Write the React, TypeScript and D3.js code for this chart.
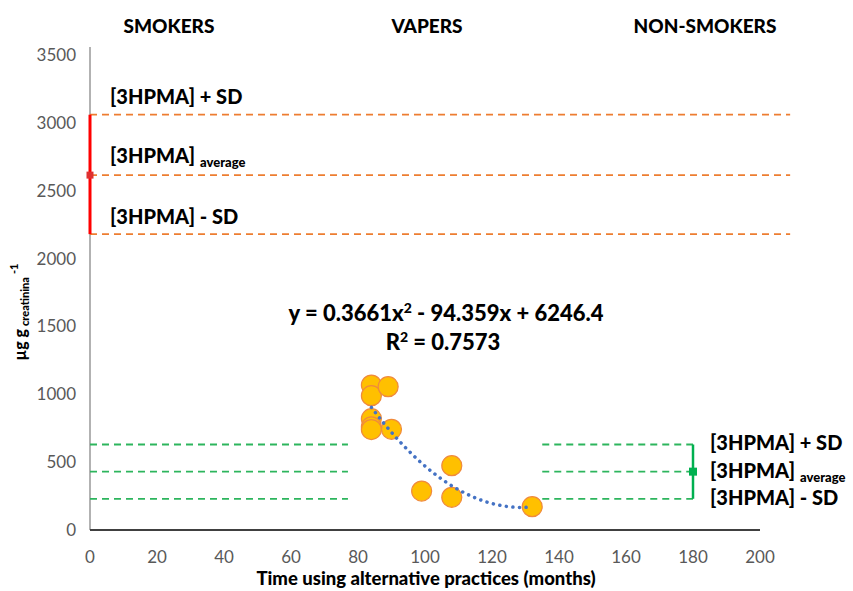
import React from "react";
import * as d3 from "d3";

const xTicks = [0, 20, 40, 60, 80, 100, 120, 140, 160, 180, 200];
const yTicks = [0, 500, 1000, 1500, 2000, 2500, 3000, 3500];
const vaperMonths = [84, 84, 84, 84, 84, 89, 90, 99, 108, 108, 132];
const vaperValues = [1068, 990, 820, 760, 740, 1056, 742, 287, 474, 241, 172];
const smokerStats = { avg: 2615, plus: 3060, minus: 2180 };
const nonSmokerStats = { avg: 430, plus: 630, minus: 230 };
const fitCoef = [0.3661, -94.359, 6246.4];
const groupLabels = ["SMOKERS", "VAPERS", "NON-SMOKERS"];

const W = 853, H = 591;
const FONT = "Lato, 'Open Sans', sans-serif";

export default function App() {
  const x = d3.scaleLinear().domain([0, 200]).range([90, 760]);
  const y = d3.scaleLinear().domain([0, 3500]).range([530, 55]);
  const fit = (t: number) => fitCoef[0] * t * t + fitCoef[1] * t + fitCoef[2];
  const fitPts = d3.range(84, 132.01, 0.5).map((t) => [t, fit(t)] as [number, number]);
  const line = d3.line<[number, number]>().x((d) => x(d[0])).y((d) => y(d[1]));

  const orange = "#ED7D31";
  const green = "#2DB55D";
  const tickColor = "#595959";

  const smokerLines = [smokerStats.plus, smokerStats.avg, smokerStats.minus];
  const nonLines = [nonSmokerStats.plus, nonSmokerStats.avg, nonSmokerStats.minus];

  return (
    <svg width={W} height={H} style={{ position: "absolute", left: 0, top: 0, background: "#fff" }} fontFamily={FONT}>
      {groupLabels.map((g, i) => (
        <text key={g} x={[169, 427, 705][i]} y={33} textAnchor="middle" fontWeight="900" fontSize={19} fill="#000">{g}</text>
      ))}
      <line x1={x(0)} x2={x(0)} y1={y(3500) - 8} y2={y(0)} stroke="#7f7f7f" strokeWidth={1.2} />
      {yTicks.map((t) => (
        <text key={t} x={76} y={y(t) + 6} textAnchor="end" fontSize={17} fill={tickColor}>{t}</text>
      ))}
      {xTicks.map((t) => (
        <text key={t} x={x(t)} y={563} textAnchor="middle" fontSize={17} fill={tickColor}>{t}</text>
      ))}
      {smokerLines.map((v, i) => (
        <line key={i} x1={x(0)} x2={x(209)} y1={y(v)} y2={y(v)} stroke={orange} strokeWidth={1.8} strokeDasharray="7,5" />
      ))}
      {nonLines.map((v, i) => (
        <g key={i}>
          <line x1={x(0)} x2={x(77)} y1={y(v)} y2={y(v)} stroke={green} strokeWidth={1.8} strokeDasharray="7,5" />
          <line x1={x(135)} x2={x(180)} y1={y(v)} y2={y(v)} stroke={green} strokeWidth={1.8} strokeDasharray="7,5" />
        </g>
      ))}
      <line x1={x(0)} x2={x(200)} y1={y(0)} y2={y(0)} stroke="#404040" strokeWidth={1.8} />
      <line x1={x(0)} x2={x(0)} y1={y(smokerStats.plus)} y2={y(smokerStats.minus)} stroke="#FF0000" strokeWidth={3} />
      <rect x={x(0) - 3.5} y={y(smokerStats.avg) - 3.5} width={7} height={7} fill="#E03030" />
      <line x1={x(180)} x2={x(180)} y1={y(nonSmokerStats.plus)} y2={y(nonSmokerStats.minus)} stroke="#00B050" strokeWidth={2.5} />
      <rect x={x(180) - 4} y={y(nonSmokerStats.avg) - 4} width={8} height={8} fill="#00B050" />
      {vaperMonths.map((m, i) => (
        <circle key={i} cx={x(m)} cy={y(vaperValues[i])} r={10} fill="#FFC000" stroke="#F08A3C" strokeWidth={1.2} />
      ))}
      <path d={line(fitPts) || ""} fill="none" stroke="#4472C4" strokeWidth={3.5} strokeDasharray="0.1,6.5" strokeLinecap="round" />
      <g fontWeight="900" fontSize={20} fill="#000">
        <text x={110} y={104}>[3HPMA] + SD</text>
        <text x={110} y={163}>[3HPMA]<tspan fontSize={13} dx={5} dy={4}>average</tspan></text>
        <text x={110} y={224}>[3HPMA] - SD</text>
      </g>
      <g fontWeight="900" fontSize={20} fill="#000">
        <text x={710} y={450}>[3HPMA] + SD</text>
        <text x={710} y={478}>[3HPMA]<tspan fontSize={13} dx={5} dy={4}>average</tspan></text>
        <text x={710} y={505}>[3HPMA] - SD</text>
      </g>
      <g fontWeight="900" fontSize={22} fill="#000" textAnchor="middle">
        <text x={446} y={321}>y = 0.3661x<tspan fontSize={14} dy={-8}>2</tspan><tspan dy={8}> - 94.359x + 6246.4</tspan></text>
        <text x={443} y={350}>R<tspan fontSize={14} dy={-8}>2</tspan><tspan dy={8}> = 0.7573</tspan></text>
      </g>
      <text transform="translate(26,312) rotate(-90)" textAnchor="middle" fontWeight="900" fontSize={16} fill="#000">
        µg g<tspan fontSize={11} dx={3} dy={3}>creatinina</tspan><tspan fontSize={11} dx={3} dy={-11}>-1</tspan>
      </text>
      <text x={426} y={585} textAnchor="middle" fontWeight="900" fontSize={18.5} fill="#000">Time using alternative practices (months)</text>
    </svg>
  );
}
